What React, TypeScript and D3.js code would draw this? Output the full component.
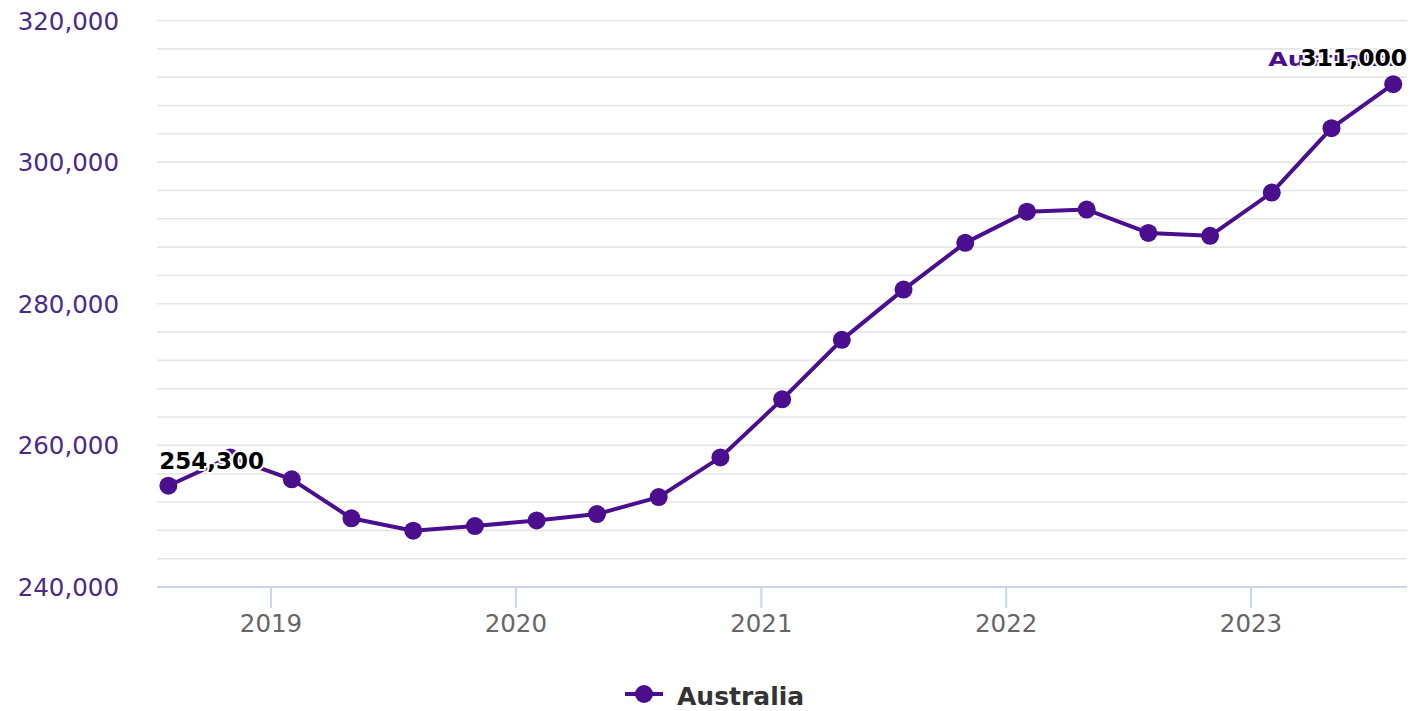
import React from "react";
import * as d3 from "d3";

const dates = [
  "2018-08-01", "2018-11-01", "2019-02-01", "2019-05-01", "2019-08-01", "2019-11-01",
  "2020-02-01", "2020-05-01", "2020-08-01", "2020-11-01", "2021-02-01", "2021-05-01",
  "2021-08-01", "2021-11-01", "2022-02-01", "2022-05-01", "2022-08-01", "2022-11-01",
  "2023-02-01", "2023-05-01", "2023-08-01",
];
const values = [
  254300, 258300, 255200, 249700, 247950, 248600, 249400, 250300, 252700, 258300,
  266500, 274900, 282000, 288600, 293000, 293300, 290000, 289600, 295700, 304800, 311000,
];
const seriesName = "Australia";
const yMajorTicks = [240000, 260000, 280000, 300000, 320000];
const yGridTicks = d3.range(244000, 320001, 4000);
const xTickYears = [2019, 2020, 2021, 2022, 2023];

const PURPLE = "#4a0e8e";
const FONT = "'DejaVu Sans', Verdana, sans-serif";

export default function App() {
  const parsed = dates.map((d) => new Date(d + "T00:00:00Z"));
  const x = d3
    .scaleUtc()
    .domain([new Date("2019-01-01T00:00:00Z"), new Date("2023-01-01T00:00:00Z")])
    .range([271, 1251]);
  const y = d3.scaleLinear().domain([240000, 320000]).range([587, 20.5]);
  const plotLeft = 157;
  const plotRight = 1407;
  const fmt = d3.format(",");

  const line = d3
    .line<number>()
    .x((_, i) => x(parsed[i]))
    .y((v) => y(v));

  const first = values[0];
  const last = values[values.length - 1];
  const x0 = x(parsed[0]);
  const xN = x(parsed[parsed.length - 1]);

  return (
    <div style={{ position: "absolute", left: 0, top: 0 }}>
      <svg width={1422} height={711} style={{ display: "block", background: "#fff" }} fontFamily={FONT}>
        {/* grid */}
        {yGridTicks.map((t) => (
          <line key={t} x1={plotLeft} x2={plotRight} y1={y(t)} y2={y(t)} stroke="#e6e6e6" strokeWidth={1.6} />
        ))}
        {/* x axis */}
        <line x1={plotLeft} x2={plotRight} y1={y(240000)} y2={y(240000)} stroke="#ccd6eb" strokeWidth={2} />
        {xTickYears.map((yr) => {
          const xx = x(new Date(Date.UTC(yr, 0, 1)));
          return (
            <g key={yr}>
              <line x1={xx} x2={xx} y1={y(240000)} y2={y(240000) + 21} stroke="#ccd6eb" strokeWidth={2} />
              <text x={xx} y={632} textAnchor="middle" fontSize={24.5} fill="#666">
                {yr}
              </text>
            </g>
          );
        })}
        {/* y labels */}
        {yMajorTicks.map((t) => (
          <text key={t} x={119} y={y(t) + 9} textAnchor="end" fontSize={24.5} fill="#4b2a88">
            {fmt(t)}
          </text>
        ))}
        {/* series */}
        <path d={line(values) || ""} fill="none" stroke={PURPLE} strokeWidth={4} strokeLinejoin="round" />
        {values.map((v, i) => (
          <circle key={i} cx={x(parsed[i])} cy={y(v)} r={9} fill={PURPLE} />
        ))}
        {/* series name label */}
        <text
          x={xN - 125}
          y={y(last) - 18}
          fontSize={19}
          fontWeight="bold"
          fill={PURPLE}
          textLength={128}
          lengthAdjust="spacingAndGlyphs"
        >
          {seriesName}
        </text>
        {/* data labels */}
        <text
          x={x0 - 9}
          y={y(first) - 17}
          fontSize={23}
          fontWeight="bold"
          fill="#000"
          stroke="#fff"
          strokeWidth={4}
          strokeLinejoin="round"
          paintOrder="stroke"
        >
          {fmt(first)}
        </text>
        <text
          x={xN + 14}
          y={y(last) - 18}
          textAnchor="end"
          fontSize={23.5}
          fontWeight="bold"
          fill="#000"
          stroke="#fff"
          strokeWidth={4}
          strokeLinejoin="round"
          paintOrder="stroke"
        >
          {fmt(last)}
        </text>
        {/* legend */}
        <line x1={625} x2={663} y1={694} y2={694} stroke={PURPLE} strokeWidth={4} />
        <circle cx={644} cy={694} r={9} fill={PURPLE} />
        <text x={677} y={705} fontSize={25} fontWeight="bold" fill="#333">
          {seriesName}
        </text>
      </svg>
    </div>
  );
}
